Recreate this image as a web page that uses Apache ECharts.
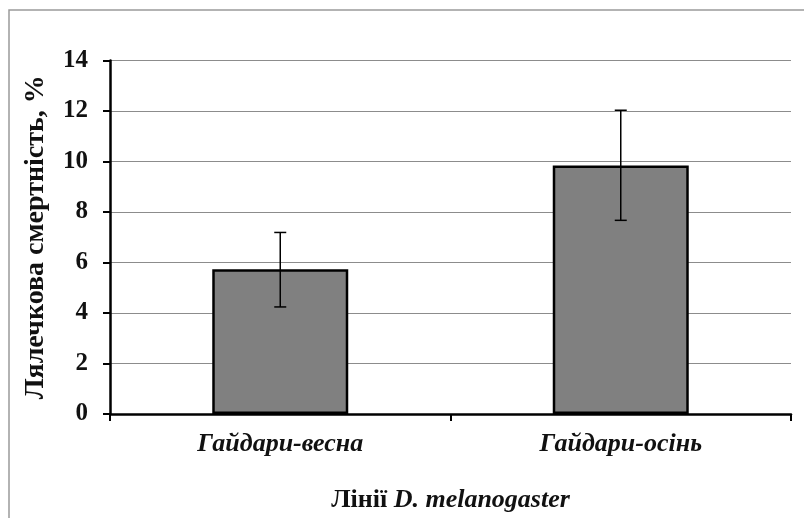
<!DOCTYPE html>
<html>
<head>
<meta charset="utf-8">
<script src="https://cdn.jsdelivr.net/npm/echarts@6/dist/echarts.min.js"></script>
<style>html,body{margin:0;padding:0;background:#fff}#c{width:804px;height:518px}</style>
</head>
<body>
<div id="c"></div>
<script>
const categories = ['Гайдари-весна', 'Гайдари-осінь'];
const values = [5.73, 9.84];
const errLow = [4.24, 7.67];
const errHigh = [7.19, 12.03];
const yTicks = [0, 2, 4, 6, 8, 10, 12, 14];

const chart = echarts.init(document.getElementById('c'), null, {renderer: 'canvas'});
const serif = '"Liberation Serif", "DejaVu Serif", serif';
chart.setOption({
  backgroundColor: '#ffffff',
  animation: false,
  graphic: [{
    type: 'rect', shape: {x: 9, y: 10, width: 820, height: 540},
    style: {fill: 'none', stroke: '#9a9a9a', lineWidth: 1.5}, silent: true, z: -1
  }],
  grid: {left: 110, right: 13, top: 60.5, bottom: 100},
  xAxis: {
    type: 'category',
    data: categories,
    name: '{a|Лінії }{b|D. melanogaster}',
    nameLocation: 'middle',
    nameGap: 73,
    nameTextStyle: {
      rich: {
        a: {fontFamily: serif, fontWeight: 'bold', fontSize: 26, color: '#111'},
        b: {fontFamily: serif, fontWeight: 'bold', fontStyle: 'italic', fontSize: 26, color: '#111'}
      }
    },
    axisLine: {lineStyle: {color: '#000', width: 2.5}},
    axisTick: {show: true, length: 7, lineStyle: {color: '#000', width: 2}},
    axisLabel: {fontFamily: serif, fontWeight: 'bold', fontStyle: 'italic', fontSize: 26, color: '#111', margin: 17}
  },
  yAxis: {
    type: 'value',
    min: yTicks[0], max: yTicks[yTicks.length - 1], interval: 2,
    name: 'Лялечкова смертність, %',
    nameLocation: 'middle',
    nameGap: 60,
    nameRotate: 90,
    nameTextStyle: {fontFamily: serif, fontWeight: 'bold', fontSize: 28, color: '#111'},
    axisLine: {show: true, lineStyle: {color: '#000', width: 2.5}},
    axisTick: {show: true, length: 7, lineStyle: {color: '#000', width: 2}},
    axisLabel: {fontFamily: serif, fontWeight: 'bold', fontSize: 25, color: '#111', margin: 22},
    splitLine: {lineStyle: {color: '#8c8c8c', width: 1.2}}
  },
  series: [{
    type: 'bar',
    data: values,
    barWidth: 136,
    itemStyle: {color: '#808080', borderColor: '#000', borderWidth: 2.5},
    z: 2
  }, {
    type: 'custom',
    data: categories.map((c, i) => [i, errLow[i], errHigh[i]]),
    z: 5,
    renderItem: function (params, api) {
      const x = api.value(0);
      const lo = api.coord([x, api.value(1)]);
      const hi = api.coord([x, api.value(2)]);
      const hw = 6;
      const st = {stroke: '#000', lineWidth: 1.5};
      return {
        type: 'group',
        children: [
          {type: 'line', shape: {x1: lo[0], y1: lo[1], x2: hi[0], y2: hi[1]}, style: st},
          {type: 'line', shape: {x1: lo[0] - hw, y1: lo[1], x2: lo[0] + hw, y2: lo[1]}, style: st},
          {type: 'line', shape: {x1: hi[0] - hw, y1: hi[1], x2: hi[0] + hw, y2: hi[1]}, style: st}
        ]
      };
    }
  }]
});
</script>
</body>
</html>
